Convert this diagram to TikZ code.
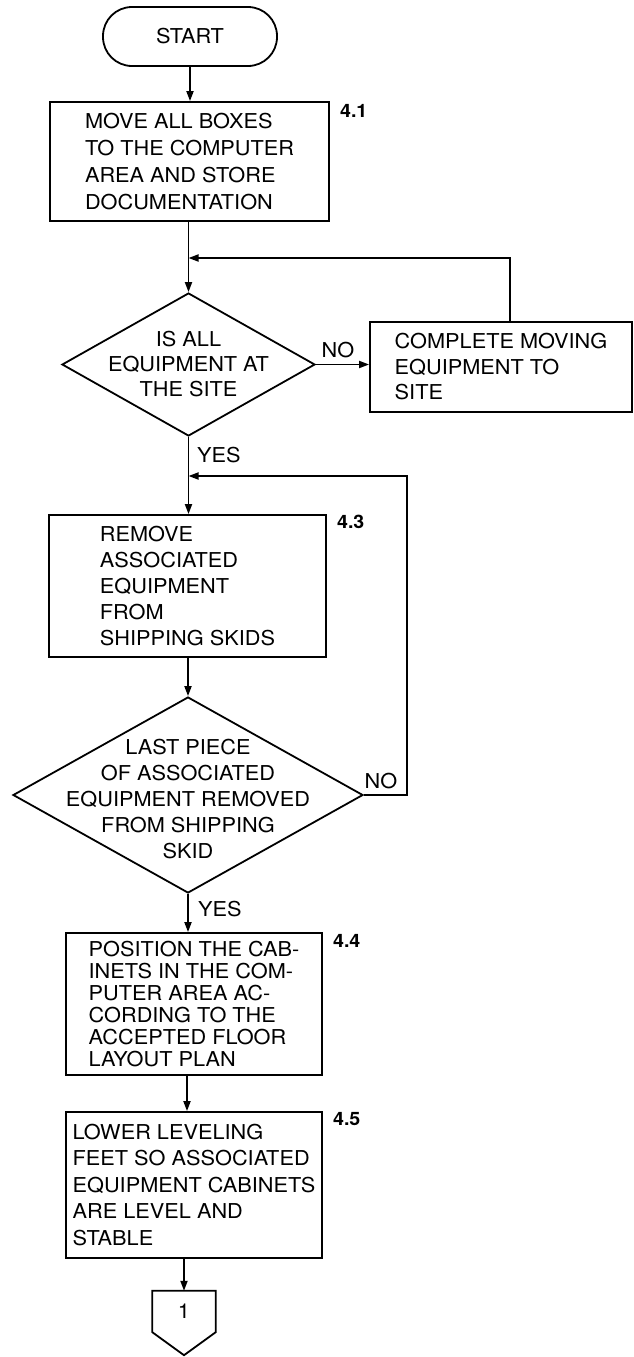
\documentclass[tikz,border=0pt]{standalone}
\usepackage{fontspec}
\setmainfont{TeX Gyre Heros}[FakeStretch=1.06]
\usetikzlibrary{shapes.geometric, arrows.meta, calc}
\tikzset{
  box/.style={draw, line width=1.8pt, align=left, inner sep=0pt},
  dec/.style={draw, diamond, line width=1.8pt, inner sep=0pt},
  arr/.style={line width=1.8pt, -{Triangle[length=10pt,width=7pt]}},
  num/.style={font=\fontsize{18.5pt}{20pt}\selectfont\bfseries, anchor=north west, inner sep=0pt},
  yn/.style={inner sep=0pt}
}
\begin{document}
\begin{tikzpicture}[x=1pt, y=-1pt, font=\fontsize{20.5pt}{26pt}\selectfont]
  \useasboundingbox (0,0) rectangle (634,1357);
  \node[draw, line width=1.8pt, rounded corners=29pt, minimum width=174pt, minimum height=59pt] (start) at (190,36.5) {START};
  \node[box, minimum width=279pt, minimum height=119pt, font=\fontsize{20.5pt}{27pt}\selectfont] (b41) at (189.5,161.5) {MOVE ALL BOXES\\TO THE COMPUTER\\AREA AND STORE\\DOCUMENTATION};
  \node[dec, minimum width=253pt, minimum height=143pt, label={[align=center, font=\fontsize{20.5pt}{25pt}\selectfont]center:IS ALL\\EQUIPMENT AT\\THE SITE}] (d1) at (188.5,364.5) {};
  \node[box, minimum width=262pt, minimum height=90pt, font=\fontsize{20.5pt}{25.5pt}\selectfont] (cm) at (501,367) {COMPLETE MOVING\\EQUIPMENT TO\\SITE};
  \node[box, minimum width=277pt, minimum height=142pt] (b43) at (187.5,586) {REMOVE\\ASSOCIATED\\EQUIPMENT\\FROM\\SHIPPING SKIDS};
  \node[dec, minimum width=350pt, minimum height=196pt, label={[align=center, yshift=-4pt]center:LAST PIECE\\OF ASSOCIATED\\EQUIPMENT REMOVED\\FROM SHIPPING\\SKID}] (d2) at (188,795) {};
  \node[box, minimum width=256pt, minimum height=142pt, font=\fontsize{20.5pt}{22pt}\selectfont] (b44) at (194,1004) {POSITION THE CAB-\\INETS IN THE COM-\\PUTER AREA AC-\\CORDING TO THE\\ACCEPTED FLOOR\\LAYOUT PLAN};
  \node[box, minimum width=256pt, minimum height=146pt, font=\fontsize{20.5pt}{26.5pt}\selectfont] (b45) at (194,1185) {LOWER LEVELING\\FEET SO ASSOCIATED\\EQUIPMENT CABINETS\\ARE LEVEL AND\\STABLE};
  \node[minimum width=63pt, minimum height=41pt, inner sep=0pt] (off) at (184,1311.5) {1};
  \draw[line width=1.8pt] (off.north west) -- (off.north east) -- (off.south east) -- ($(off.south)+(0,23)$) -- (off.south west) -- cycle;

  \node[num] (n41) at ([xshift=10pt, yshift=-3pt]b41.north east) {4.1};
  \node[num] (n43) at ([xshift=10pt, yshift=-1pt]b43.north east) {4.3};
  \node[num] (n44) at ([xshift=10pt, yshift=-2pt]b44.north east) {4.4};
  \node[num] (n45) at ([xshift=10pt, yshift=-1pt]b45.north east) {4.5};
  \node[yn] (no1) at (338,350) {NO};
  \node[yn, anchor=west] (yes1) at (197,455) {YES};
  \node[yn] (no2) at (381,781) {NO};
  \node[yn, anchor=west] (yes2) at (198,909) {YES};

  \coordinate (j1) at (188.5,258);
  \coordinate (j2) at (188.5,476);
  \draw[arr] (start.south) -- (start.south |- b41.north);
  \draw[arr] (b41.south -| d1.north) -- (d1.north);
  \draw[arr] (d1.east) -- (d1.east -| cm.west);
  \draw[arr] ([xshift=9pt]cm.north) |- (j1);
  \draw[arr] (d1.south) -- (d1.south |- b43.north);
  \draw[arr] (d2.east) -- ++(43,0) |- (j2);
  \draw[arr] (b43.south -| d2.north) -- (d2.north);
  \draw[arr] (d2.south) -- (d2.south |- b44.north);
  \draw[arr] ([xshift=-1pt]d2.south |- b44.south) -- ([xshift=-1pt]d2.south |- b45.north);
  \draw[arr] (off.north |- b45.south) -- (off.north);
\end{tikzpicture}
\end{document}
